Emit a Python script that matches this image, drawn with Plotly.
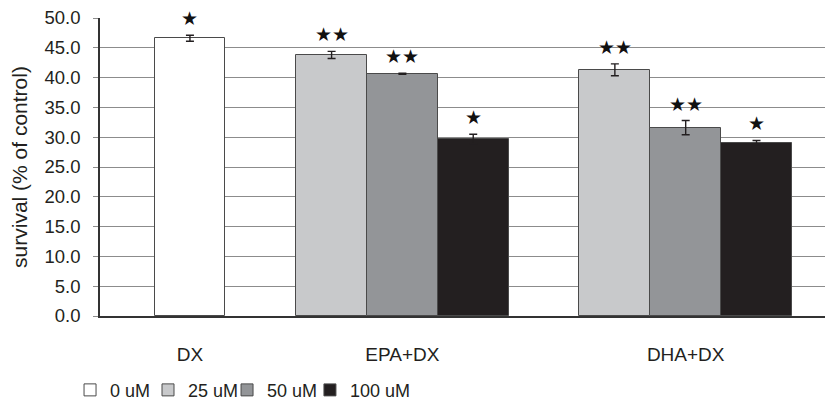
import plotly.graph_objects as go

groups = ["DX", "EPA+DX", "DHA+DX"]
series = ["0 uM", "25 uM", "50 uM", "100 uM"]
# values[group][series]; None = not measured in that group
values = [
    [46.6, None, None, None],
    [None, 43.8, 40.65, 29.7],
    [None, 41.3, 31.6, 29.1],
]
errors = [
    [0.5, None, None, None],
    [None, 0.6, 0.1, 0.8],
    [None, 1.0, 1.2, 0.35],
]
stars = [
    [1, 0, 0, 0],
    [0, 2, 2, 1],
    [0, 2, 2, 1],
]
y_ticks = [0, 5, 10, 15, 20, 25, 30, 35, 40, 45, 50]

colors = ["#ffffff", "#c8c9cb", "#939598", "#231f20"]
legend_x = [0.0752, 0.1697, 0.2655, 0.366]   # legend entry positions (layout)

# bar slots: bars of a group sit side by side, one empty slot between groups
xs = [[] for _ in series]
ys = [[] for _ in series]
es = [[] for _ in series]
star_items = []
centers = []
slot = 0
for gi, g in enumerate(groups):
    present = [si for si in range(len(series)) if values[gi][si] is not None]
    start = slot
    for si in present:
        xs[si].append(slot)
        ys[si].append(values[gi][si])
        es[si].append(errors[gi][si])
        star_items.append((slot, values[gi][si] + errors[gi][si], stars[gi][si]))
        slot += 1
    centers.append((start + slot - 1) / 2)
    slot += 1

fig = go.Figure()
legend_names = ["legend"] + [f"legend{i + 1}" for i in range(1, len(series))]
for si, name in enumerate(series):
    fig.add_trace(go.Bar(
        x=xs[si], y=ys[si], name=name, width=1, legend=legend_names[si],
        marker=dict(color=colors[si], line=dict(color="#4a4a4a", width=1)),
        error_y=dict(type="data", array=es[si], color="#231f20", thickness=1.4, width=4),
    ))

for x, y, n in star_items:
    if n:
        fig.add_annotation(x=x, y=y, text="★" * n, showarrow=False, yanchor="bottom",
                           yshift=4, font=dict(family="DejaVu Sans", size=19, color="#111111"))

legend_style = dict(orientation="h", xref="container", yref="container",
                    y=0.03, xanchor="left", yanchor="middle",
                    font=dict(size=18), itemwidth=30, bgcolor="rgba(0,0,0,0)")

# the page body has an 8px margin, so the figure is sized to fit the window
fig.update_layout(
    width=825, height=394,
    margin=dict(l=92, r=0, t=10, b=86, autoexpand=False),
    plot_bgcolor="white", paper_bgcolor="white",
    font=dict(family="Liberation Sans, Arial, sans-serif", color="#231f20"),
    bargap=0, barmode="overlay",
    showlegend=True,
    **{ln: dict(legend_style, x=legend_x[i]) for i, ln in enumerate(legend_names)},
)
fig.update_xaxes(
    range=[-1.27, 9.08], tickmode="array", tickvals=centers, ticktext=groups,
    showgrid=False, zeroline=False, showline=True, linecolor="#333333", linewidth=1.5,
    ticks="", ticklabelstandoff=20, tickfont=dict(size=19), automargin=False,
)
fig.update_yaxes(
    range=[0, 50], tickmode="array", tickvals=y_ticks, tickformat=".1f",
    showgrid=True, gridcolor="#8c8c8c", gridwidth=1.3, zeroline=False,
    showline=True, linecolor="#333333", linewidth=1.5,
    ticks="outside", ticklen=5, tickcolor="#8c8c8c", tickwidth=1.3,
    tickfont=dict(size=18.5), ticklabelstandoff=9, ticklabeloverflow="allow",
    automargin=False,
    title=dict(text="survival (% of control)", font=dict(size=21), standoff=14),
)

fig.write_html("out.html")
